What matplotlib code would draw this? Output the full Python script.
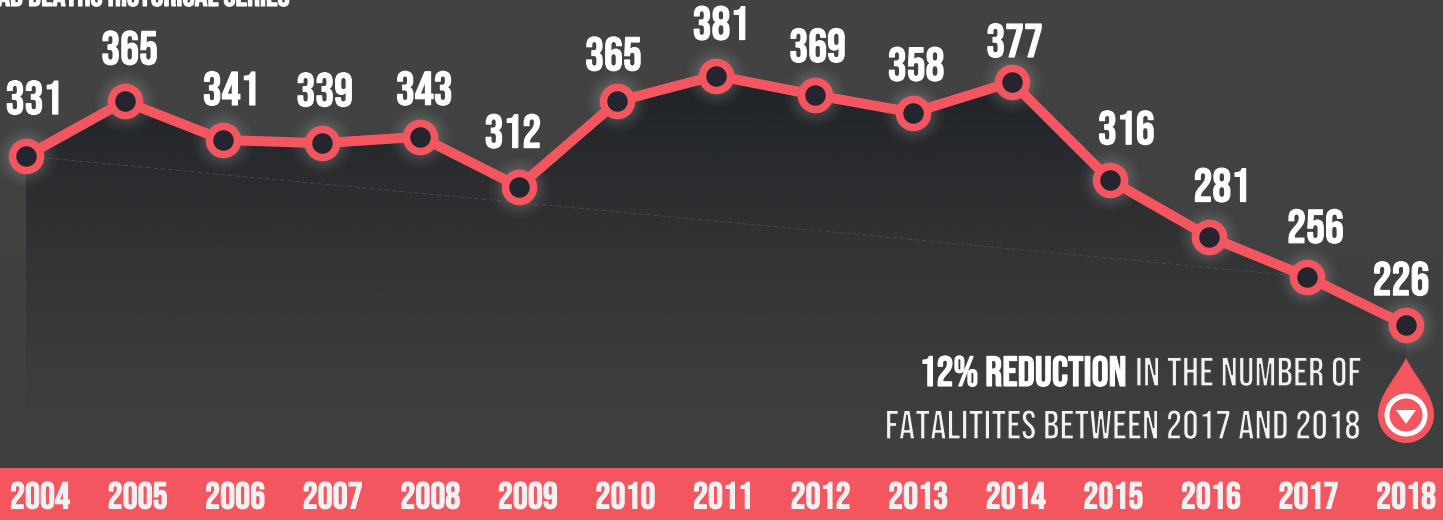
#!/usr/bin/python3
#
# Road deaths historical series, 2004-2018.

import matplotlib
matplotlib.use("Agg")
import matplotlib.patheffects as pe
import matplotlib.pyplot as plt
import numpy as np

from matplotlib.patches import Circle, PathPatch, Polygon
from matplotlib.path import Path

years = [2004, 2005, 2006, 2007, 2008, 2009, 2010, 2011, 2012, 2013, 2014, 2015, 2016, 2017, 2018]
deaths = [331, 365, 341, 339, 343, 312, 365, 381, 369, 358, 377, 316, 281, 256, 226]
title = "ROAD DEATHS HISTORICAL SERIES"
note_bold = "12% REDUCTION"
note_line1 = "IN THE NUMBER OF"
note_line2 = "FATALITITES BETWEEN 2017 AND 2018"

# Pixel nudges of the value labels from their points.
label_dx = [8, 5, 8, 3, 4, -6, -4, 5, 3, 3, 3, 16, 13, 8, -5]
label_dy = [59, 54, 52, 54, 49, 56, 48, 53, 50, 49, 42, 53, 52, 51, 47]

RED = "#f45660"
DARK = "#25252f"
BG = "#404141"

plt.rcParams["font.family"] = ["Bebas Neue", "Liberation Sans"]

# Bebas only has one weight here, so thicken or thin it with a stroke.
bold = [pe.Stroke(linewidth=0.8, foreground="white")]
bold_soft = [pe.Stroke(linewidth=0.8, foreground="#f2f2f2")]
thin = [pe.Stroke(linewidth=1.0, foreground=BG)]

W, H = 1443, 520
fig = plt.figure(figsize=(W / 100, H / 100), dpi=100)

# Background
bg = fig.add_axes([0, 0, 1, 1], zorder=0)
bg.axis("off")
grad = np.linspace(0, 1, 256).reshape(-1, 1)
top = np.array([0x43, 0x43, 0x43]) / 255
bot = np.array([0x3e, 0x3f, 0x3f]) / 255
bg.imshow(top + (bot - top) * grad[..., None], aspect="auto", extent=(0, 1, 0, 1))

# Main chart, full-figure axes so points land on the same pixels
ax = fig.add_axes([0, 0, 1, 1], zorder=1)
ax.patch.set_alpha(0)
ax.axis("off")
step = 98.57

# Dark area under the line, fading out downward
rgba = np.zeros((256, 1, 4))
rgba[..., :3] = np.array([0x1f, 0x22, 0x26]) / 255
rgba[..., 3] = np.linspace(1.0, 0.0, 256).reshape(-1, 1) ** 1.15
ylo, yhi = (689 - 430) / 1.61, (689 - 70) / 1.61
im = ax.imshow(rgba, aspect="auto", extent=(2004, 2018, ylo, yhi), zorder=1)
ax.set_xlim(2004 - 26 / step, 2018 + 37 / step)
ax.set_ylim((689 - 520) / 1.61, 689 / 1.61)
verts = [(years[0], ylo)] + list(zip(years, deaths)) + [(years[-1], ylo)]
clip = Polygon(verts, closed=True, transform=ax.transData)
im.set_clip_path(clip)

# Faint trend line, first point to 2017
ax.plot([years[0], years[-2]], [deaths[0], deaths[-2]], color="#4a4d50", lw=0.6, ls=(0, (6, 3)), zorder=2)

# Glow around the markers
for size, alpha in zip([62, 56, 50, 44, 38], [0.018, 0.025, 0.03, 0.04, 0.05]):
    ax.plot(years, deaths, ls="none", marker="o", ms=size * 0.72, mfc="white", mec="none", alpha=alpha, zorder=3)

ax.plot(years, deaths, color=RED, lw=10 * 0.72, zorder=4, solid_capstyle="round")
ax.plot(years, deaths, ls="none", marker="o", ms=28 * 0.72, mfc=DARK, mec=RED, mew=7.5 * 0.72, zorder=5)

for x, y, v, dx, dy in zip(years, deaths, deaths, label_dx, label_dy):
    ax.annotate(str(v), (x, y), xytext=(dx * 0.72, dy * 0.72), textcoords="offset points",
                ha="center", va="center", color="white", fontsize=34, zorder=6, path_effects=bold)

# Pixel-space layer for the band, note and icon
deco = fig.add_axes([0, 0, 1, 1], zorder=2)
deco.patch.set_alpha(0)
deco.axis("off")
deco.set_xlim(0, W)
deco.set_ylim(H, 0)

deco.text(290, 6, title, ha="right", va="baseline", color="white", fontsize=23, path_effects=bold)

line1 = deco.text(1361, 386, note_line1, ha="right", va="baseline", color="#f2f2f2", fontsize=29.5, path_effects=thin)
deco.annotate(note_bold, xy=(0, 0), xycoords=line1, xytext=(-6, 0), textcoords="offset points",
              ha="right", va="bottom", color="white", fontsize=30.5, path_effects=bold)
deco.text(1361, 439, note_line2, ha="right", va="baseline", color="#f2f2f2", fontsize=29.5, path_effects=thin)

# Drop icon
drop = Path(
    [(1406, 358), (1396, 378), (1378, 395), (1378, 415), (1378, 431), (1391, 443), (1406, 443),
     (1421, 443), (1434, 431), (1434, 415), (1434, 395), (1416, 378), (1406, 358)],
    [Path.MOVETO] + [Path.CURVE4] * 12,
)
deco.add_patch(PathPatch(drop, fc=RED, ec="none"))
deco.add_patch(Circle((1406, 415), 19, fc="none", ec="white", lw=5 * 0.72))
deco.add_patch(Polygon([(1396, 410), (1416, 410), (1406, 424)], closed=True, fc="white", ec="none"))

# Bottom band with the year labels
band = fig.add_axes([0, 0, 1, 52 / H], zorder=3)
band.set_facecolor(RED)
lstep = 97.57
band.set_xlim(2004 - 40 / lstep, 2018 + 37 / lstep)
band.set_ylim(0, 1)
band.set_yticks([])
band.set_xticks(years)
band.set_xticklabels([str(y) for y in years], color="#f2f2f2", fontsize=27, path_effects=bold_soft, va="center")
band.tick_params(axis="x", length=0, direction="in", pad=-18)
for spine in band.spines.values():
    spine.set_visible(False)

fig.savefig("out.png", dpi=100)
